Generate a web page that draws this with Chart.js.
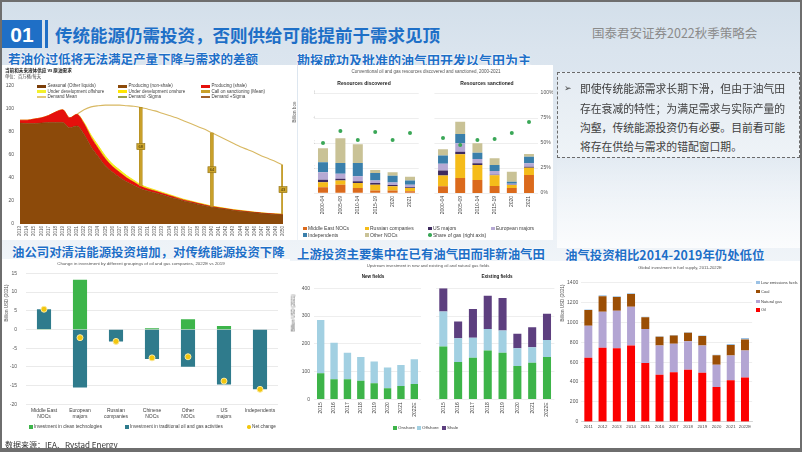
<!DOCTYPE html>
<html><head><meta charset="utf-8">
<script src="https://cdn.jsdelivr.net/npm/chart.js@4.4.1/dist/chart.umd.min.js"></script>
<style>
*{box-sizing:border-box;}
html,body{margin:0;padding:0;}
body{width:802px;height:452px;overflow:hidden;position:relative;background:#fff;font-family:"Liberation Sans",Arial,sans-serif;}
#bg{position:absolute;left:0;top:0;width:802px;height:452px;background:linear-gradient(180deg,#d3dfea 0px,#dae4ee 50px,#e2eaf2 150px,#edf2f7 240px,#f8fafc 320px,#ffffff 420px);}
#frame{position:absolute;left:0;top:0;width:802px;height:452px;border:2px solid #6e6e6e;border-bottom-width:4px;pointer-events:none;z-index:50;}
.a{position:absolute;white-space:nowrap;line-height:1;}
.cn{font-family:"Noto Sans CJK SC",sans-serif;}
.h{position:absolute;white-space:nowrap;line-height:1;font-family:"Noto Sans CJK SC",sans-serif;font-weight:700;color:#1e6fc7;font-size:12.5px;transform:translateY(-50%);text-shadow:0 0 1px #fff,0 0 2px #fff,0 0 2px #fff;}
.wb{position:absolute;background:#fff;}
canvas{position:absolute;}
</style></head>
<body>
<div id="bg"></div>
<div style="position:absolute;left:557px;top:158px;width:243px;height:90px;background:linear-gradient(180deg,rgba(255,255,255,0),rgba(255,255,255,0.75));"></div>
<div style="position:absolute;left:2px;top:20px;width:40px;height:28px;background:#1f6fc6;"></div>
<div class="a" style="left:22px;top:34px;transform:translate(-50%,-50%);color:#fff;font-weight:700;font-size:21px;">01</div>
<div style="position:absolute;left:45px;top:20px;width:3px;height:28px;background:#1f6fc6;"></div>
<div class="h" style="left:55px;top:35px;font-size:17.5px;text-shadow:none;">传统能源仍需投资，否则供给可能提前于需求见顶</div>
<div class="a cn" style="left:592px;top:33px;transform:translateY(-50%);font-size:12.5px;color:#8a8a8a;">国泰君安证券2022秋季策略会</div>

<div class="h" style="left:8px;top:59px;">若油价过低将无法满足产量下降与需求的差额</div>
<div class="h" style="left:297px;top:59px;font-size:13px;">勘探成功及批准的油气田开发以气田为主</div>
<div class="h" style="left:12px;top:252px;font-size:12.4px;">油公司对清洁能源投资增加，对传统能源投资下降</div>
<div class="h" style="left:297px;top:254px;font-size:12.4px;">上游投资主要集中在已有油气田而非新油气田</div>
<div class="h" style="left:565px;top:255px;font-size:12.4px;">油气投资相比2014-2019年仍处低位</div>

<div class="wb" style="left:2px;top:65px;width:295px;height:175px;"></div>
<div class="wb" style="left:298px;top:65px;width:255px;height:175px;"></div>
<div class="wb" style="left:2px;top:259px;width:288px;height:183px;"></div>
<div class="wb" style="left:290px;top:261px;width:270px;height:180px;"></div>
<div class="wb" style="left:560px;top:261px;width:240px;height:181px;"></div>

<div style="position:absolute;left:557px;top:72px;width:243px;height:86px;border:1.5px dashed #6a6a6a;background:linear-gradient(180deg,#e4ebf2,#eef3f7);"></div>

<div id="frame"></div>

<script>
// ---------- DATA ----------
const supplyYears = ['2013','2014','2015','2016','2017','2018','2019','2020','2021','2022','2023','2024','2025','2026','2027','2028','2029','2030','2031','2032','2033','2034','2035','2036','2037','2038','2039','2040','2041','2042','2043','2044','2045','2046','2047','2048','2049','2050'];
const producingNonShale = [87.5,87,87,87.5,88,88,88,83.5,85,78,67,58.5,50.5,45,40.5,36.5,33.5,30.5,28.5,27,25.3,23.5,21.8,20,18.6,17.2,15.9,14.5,13.6,12.7,11.8,11.1,10.4,9.8,9.2,8.7,8.3,8.0];
const producingShale = [2.5,3,4,4.5,6,9,11,8.5,10,9,8,7,6,4.8,4.3,3.5,2.8,2.2,1.8,1.5,1.3,1.2,1.0,0.9,0.8,0.7,0.6,0.6,0.5,0.5,0.4,0.4,0.4,0.3,0.3,0.3,0.3,0.3];
const underDevelopment = [0,0,0,0,0,0,0,0,0,1,2,2.5,2.5,2.2,2.2,2,1.7,1.3,1.2,1.0,0.9,0.8,0.7,0.6,0.6,0.5,0.5,0.4,0.4,0.3,0.3,0.3,0.3,0.2,0.2,0.2,0.2,0.2];
const demandMean = [null,null,null,null,null,null,null,null,95,99,101.5,102.5,103,103,103,102.5,102,101,99.5,98,96,94,92,89.5,87,84.5,82,79,76,73,70,67,64.5,62,59,56.5,54,51];
const callYears = ['2030','2040','2050'];
const callLow = [33,15,8.5];
const callHigh = [101,79,51];

const periods = ['2000-04','2005-09','2010-14','2015-19','2020','2021'];
const discMENOC = [3.5,5,3,1.5,1.5,1];
const discRussian = [3,2.5,3,3.5,2.5,2];
const discUSMajors = [1.5,1,1,1,0.8,0.5];
const discEuroMajors = [4.5,3,3,1.5,1.5,1.5];
const discIndependents = [6,6.5,8,4.5,4,2.5];
const discOtherNOC = [8.3,14.8,11.2,1.8,2.1,2.3];
const discGasShare = [50,62,53,61,53,60];
const sancMENOC = [4,9,7.8,4.2,3,10.8];
const sancRussian = [6.5,14.2,9,6.5,1.8,4.4];
const sancUSMajors = [3,1.6,1,0.3,0.2,0.6];
const sancEuroMajors = [4,5,2.6,2.2,0.6,2];
const sancIndependents = [5,5.6,3.8,3.6,1.2,4];
const sancOtherNOC = [3.7,7.4,5.6,4,6,1.6];
const sancGasShare = [55,48,53,54,60,71];

const companyGroups = [['Middle East','NOCs'],['European','majors'],['Russian','companies'],['Chinese','NOCs'],['Other','NOCs'],['US','majors'],['Independents']];
const cleanInvestment = [0.1,13.3,0,0.3,2.7,0.9,0];
const traditionalInvestment = [5.3,-15.5,-3.2,-7.9,-10.0,-14.7,-16.0];
const netChange = [5.4,-2.2,-3.2,-7.6,-7.3,-13.8,-16.0];

const fieldYears = ['2015','2016','2017','2018','2019','2020','2021','2022E'];
const newOnshore = [94,72,72,67,58,40,48,55];
const newOffshore = [192,132,96,85,78,75,76,89];
const existingOnshore = [190,134,150,176,168,120,132,152];
const existingOffshore = [126,86,72,77,80,64,56,62];
const existingShale = [84,60,103,120,117,52,72,94];

const fuelYears = ['2011','2012','2013','2014','2015','2016','2017','2018','2019','2020','2021','2022E'];
const oilInv = [644,744,740,767,590,474,497,524,494,350,417,444];
const gasInv = [323,363,377,390,344,293,287,286,273,224,250,273];
const coalInv = [157,157,140,130,118,88,85,85,95,95,105,112];
const lowEmInv = [5,10,7,7,5,5,5,5,5,5,10,15];

// ---------- HELPERS ----------
Chart.defaults.font.family = '"Liberation Sans", Arial, sans-serif';
Chart.defaults.color = '#555';
function mk(x,y,w,h){const c=document.createElement('canvas');c.width=w;c.height=h;c.style.left=x+'px';c.style.top=y+'px';c.style.width=w+'px';c.style.height=h+'px';document.body.appendChild(c);return c;}
function T(x,y,s,o){o=o||{};const d=document.createElement('div');d.className='a'+(o.cn?' cn':'');d.textContent=s;
  d.style.left=x+'px';d.style.top=y+'px';d.style.fontSize=(o.fs||5)+'px';d.style.color=o.c||'#404040';if(o.b)d.style.fontWeight='700';
  let tr='translateY(-50%)';if(o.center)tr='translate(-50%,-50%)';if(o.rot)tr='translate(-50%,-50%) rotate(-90deg)';
  d.style.transform=tr;d.style.zIndex=20;document.body.appendChild(d);return d;}
function LG(x,y,color,label,shape,fs){const s=document.createElement('div');s.className='a';
  let w=3.5,h=3.5,r=0;if(shape==='blk'){w=9;h=3;}if(shape==='ln'){w=9;h=1.3;}if(shape==='dot'){r=50;}
  s.style.cssText='left:'+x+'px;top:'+(y-h/2)+'px;width:'+w+'px;height:'+h+'px;background:'+color+';border-radius:'+r+'%;z-index:20;';
  document.body.appendChild(s);T(x+w+1.5,y,label,{fs:fs||5});}
const base = {responsive:false,animation:false,plugins:{legend:{display:false},tooltip:{enabled:false}}};
function opts(o){return Object.assign({},base,o);}
const plain = v=>String(v);

// ---------- TOP-LEFT: supply vs demand ----------
const cumNS = producingNonShale.slice();
const cumSh = producingNonShale.map((v,i)=>v+producingShale[i]);
const cumUD = cumSh.map((v,i)=>v+underDevelopment[i]);
const callBars = callYears.map((yr,i)=>({x:yr,y:[callLow[i],callHigh[i]]}));
const callLabelPlugin = {id:'callLabels',afterDatasetsDraw(chart){
  const meta=chart.getDatasetMeta(4);const ys=chart.scales.y;const ctx=chart.ctx;
  callBars.forEach((d,i)=>{const el=meta.data[i];if(!el)return;const py=ys.getPixelForValue((d.y[0]+d.y[1])/2);
    ctx.save();ctx.fillStyle='#cda52e';ctx.fillRect(el.x-4,py-3,8,6);ctx.strokeStyle='#8e6f12';ctx.lineWidth=0.6;ctx.strokeRect(el.x-4,py-3,8,6);
    ctx.fillStyle='#3b2c00';ctx.font='4px "Liberation Sans"';ctx.textAlign='center';ctx.textBaseline='middle';
    ctx.fillText(String(Math.round(d.y[1]-d.y[0])),el.x,py+0.3);ctx.restore();});}};
new Chart(mk(2,65,295,175),{type:'line',
  data:{labels:supplyYears,datasets:[
    {data:cumNS,fill:'origin',backgroundColor:'#8c4a0a',borderColor:'#7d4107',borderWidth:0.6,pointRadius:0,cubicInterpolationMode:'monotone'},
    {data:cumSh,fill:'-1',backgroundColor:'#e5100c',borderColor:'#dc0000',borderWidth:0.6,pointRadius:0,cubicInterpolationMode:'monotone'},
    {data:cumUD,fill:'-1',backgroundColor:'#f6ef1c',borderColor:'#efe200',borderWidth:0.8,pointRadius:0,cubicInterpolationMode:'monotone'},
    {data:demandMean,fill:false,borderColor:'#d8b862',borderWidth:1.1,pointRadius:0,cubicInterpolationMode:'monotone'},
    {type:'bar',data:callBars,backgroundColor:'#c9a02a',borderColor:'#a8841a',borderWidth:0.4,barThickness:3,order:-1}
  ]},
  options:opts({layout:{autoPadding:false,padding:{left:0,right:14,top:20.5,bottom:0}},
    scales:{
      x:{type:'category',offset:false,grid:{display:false,drawTicks:false},border:{display:false},
         ticks:{autoSkip:false,maxRotation:90,minRotation:90,font:{size:4.5},color:'#555',padding:2},afterFit:s=>{s.height=16;}},
      y:{min:0,max:120,ticks:{stepSize:20,font:{size:5},color:'#555',padding:6,callback:plain},grid:{display:false,drawTicks:false},border:{display:false},afterFit:s=>{s.width=18;}}
    }}),
  plugins:[callLabelPlugin]});

T(5,70,'当前和未来液体供应 vs 原油需求',{fs:4.6,b:true,cn:true,c:'#222'});
T(5,76,'单位：百万桶/每天',{fs:4.3,cn:true,c:'#444'});
LG(37,86,'#7a3d08','Seasonal (Other liquids)','blk',4.5);
LG(118,86,'#8c4a0a','Producing (non-shale)','blk',4.5);
LG(201,86,'#e5100c','Producing (shale)','blk',4.5);
LG(37,91.5,'#f3f02a','Under development offshore','blk',4.5);
LG(118,91.5,'#ffe600','Under development onshore','blk',4.5);
LG(201,91.5,'#c9a02a','Call on sanctioning (Mean)','blk',4.5);
LG(37,97,'#e3c878','Demand Mean','ln',4.5);
LG(118,97,'#9aa04a','Demand -Sigma','ln',4.5);
LG(201,97,'#a0602c','Demand +Sigma','ln',4.5);

// ---------- TOP-MIDDLE: resources discovered / sanctioned ----------
const resColors = ['#db6a1c','#f5bc1a','#3e2b5f','#b6a9d4','#3a7fab','#c9c296'];
function resSets(arrs,share){
  const sets = arrs.map((a,i)=>({data:a,backgroundColor:resColors[i],stack:'r',yAxisID:'y',barPercentage:0.8,categoryPercentage:0.72}));
  sets.push({type:'line',data:share,yAxisID:'y2',showLine:false,pointRadius:2,pointBackgroundColor:'#3aa757',pointBorderWidth:0,order:-1});
  return sets;}
const resX = {stacked:true,grid:{display:false,drawTicks:false},border:{display:false},
  ticks:{autoSkip:false,maxRotation:90,minRotation:90,font:{size:5},color:'#444',padding:3},afterFit:s=>{s.height=27;}};
new Chart(mk(298,65,125,155),{type:'bar',
  data:{labels:periods,datasets:resSets([discMENOC,discRussian,discUSMajors,discEuroMajors,discIndependents,discOtherNOC],discGasShare)},
  options:opts({layout:{autoPadding:false,padding:{left:0,right:4.3,top:28,bottom:0}},
    scales:{x:resX,
      y:{stacked:true,min:0,max:60,ticks:{stepSize:15,font:{size:5},color:'#555',padding:-5,callback:plain},grid:{color:'#e3e3e3',lineWidth:0.6,drawTicks:false},border:{display:false},afterFit:s=>{s.width=16.3;}},
      y2:{position:'right',display:false,min:0,max:100}}})});
new Chart(mk(423,65,130,155),{type:'bar',
  data:{labels:periods,datasets:resSets([sancMENOC,sancRussian,sancUSMajors,sancEuroMajors,sancIndependents,sancOtherNOC],sancGasShare)},
  options:opts({layout:{autoPadding:false,padding:{left:11.4,right:0,top:28,bottom:0}},
    scales:{x:resX,
      y:{stacked:true,display:false,min:0,max:60},
      y2:{position:'right',min:0,max:100,ticks:{stepSize:25,callback:v=>v+'%',font:{size:5},color:'#555',padding:3},grid:{color:'#e3e3e3',lineWidth:0.6,drawTicks:false},border:{display:false},afterFit:s=>{s.width=15.4;}}}})});
T(426,72,'Conventional oil and gas resources discovered and sanctioned, 2000-2021',{fs:4.5,center:true,c:'#555'});
T(364,83,'Resources discovered',{fs:5,b:true,center:true,c:'#222'});
T(487,83,'Resources sanctioned',{fs:5,b:true,center:true,c:'#222'});
T(294.5,112,'Billion boe',{fs:4.5,rot:true,c:'#555'});
LG(303,228.3,resColors[0],'Middle East NOCs','sq',5);
LG(365,228.3,resColors[1],'Russian companies','sq',5);
LG(428,228.3,resColors[2],'US majors','sq',5);
LG(491,228.3,resColors[3],'European majors','sq',5);
LG(303,235,resColors[4],'Independents','sq',5);
LG(365,235,resColors[5],'Other NOCs','sq',5);
LG(428,235,'#3aa757','Share of gas (right axis)','dot',5);

// ---------- BOTTOM-LEFT: change in investment ----------
new Chart(mk(2,258,288,182),{type:'bar',
  data:{labels:companyGroups,datasets:[
    {data:cleanInvestment,backgroundColor:'#3db54a',stack:'s',barPercentage:0.8,categoryPercentage:0.49},
    {data:traditionalInvestment,backgroundColor:'#2f7b8c',stack:'s',barPercentage:0.8,categoryPercentage:0.49},
    {type:'line',data:netChange,stack:'n',showLine:false,pointRadius:3,pointBackgroundColor:'#f3c70f',pointBorderColor:'#fbe9a0',pointBorderWidth:1,order:-1}
  ]},
  options:opts({layout:{autoPadding:false,padding:{left:0,right:12,top:15.3,bottom:0}},
    scales:{
      x:{stacked:true,grid:{display:false,drawTicks:false},border:{display:false},ticks:{autoSkip:false,maxRotation:0,font:{size:5},color:'#404040',padding:3},afterFit:s=>{s.height=35.7;}},
      y:{stacked:true,min:-20,max:15,ticks:{stepSize:5,font:{size:5},color:'#555',padding:9,callback:plain},grid:{color:'#dcdcdc',lineWidth:0.6,drawTicks:false},border:{display:false},afterFit:s=>{s.width=24;}}
    }})});
T(141,264,'Change in investment by different groupings of oil and gas companies, 2022E vs 2019',{fs:4.4,center:true,c:'#555'});
T(7,303,'Billion USD (2021)',{fs:4.5,rot:true,c:'#555'});
LG(29,427,'#3db54a','Investment in clean technologies','sq',4.7);
LG(125,427,'#2f7b8c','Investment in traditional oil and gas activities','sq',4.7);
LG(247,427,'#f3c70f','Net change','dot',4.7);

// ---------- BOTTOM-MIDDLE: new vs existing fields ----------
const fx = {stacked:true,grid:{display:false,drawTicks:false},border:{display:false},
  ticks:{autoSkip:false,maxRotation:90,minRotation:90,font:{size:5},color:'#444',padding:3},afterFit:s=>{s.height=33.7;}};
new Chart(mk(290,258,135,175),{type:'bar',
  data:{labels:fieldYears,datasets:[
    {data:newOnshore,backgroundColor:'#3db449',barPercentage:0.8,categoryPercentage:0.69},
    {data:newOffshore,backgroundColor:'#a2d0e2',barPercentage:0.8,categoryPercentage:0.69}]},
  options:opts({layout:{autoPadding:false,padding:{left:0,right:4,top:30.3,bottom:0}},
    scales:{x:fx,
      y:{stacked:true,min:0,max:400,ticks:{stepSize:100,font:{size:5},color:'#555',padding:4,callback:plain},grid:{color:'#e3e3e3',lineWidth:0.6,drawTicks:false},border:{display:false},afterFit:s=>{s.width=24;}}}})});
new Chart(mk(425,258,135,175),{type:'bar',
  data:{labels:fieldYears,datasets:[
    {data:existingOnshore,backgroundColor:'#3db449',barPercentage:0.8,categoryPercentage:0.68},
    {data:existingOffshore,backgroundColor:'#a2d0e2',barPercentage:0.8,categoryPercentage:0.68},
    {data:existingShale,backgroundColor:'#5d3f7f',barPercentage:0.8,categoryPercentage:0.68}]},
  options:opts({layout:{autoPadding:false,padding:{left:0,right:5.6,top:30.3,bottom:0}},
    scales:{x:fx,
      y:{stacked:true,min:0,max:400,ticks:{stepSize:100,display:false},grid:{color:'#e3e3e3',lineWidth:0.6,drawTicks:false},border:{display:false},afterFit:s=>{s.width=10.9;}}}})});
T(428,266,'Upstream investment in new and existing oil and natural gas fields',{fs:4.2,center:true,c:'#555'});
T(373,277,'New fields',{fs:4.6,b:true,center:true,c:'#222'});
T(497,277,'Existing fields',{fs:4.6,b:true,center:true,c:'#222'});
T(293.5,313,'Billion USD (2021)',{fs:4.5,rot:true,c:'#555'});
LG(393,428,'#3db449','Onshore','sq',4.4);
LG(417,428,'#a2d0e2','Offshore','sq',4.4);
LG(442,428,'#5d3f7f','Shale','sq',4.4);

// ---------- BOTTOM-RIGHT: fuel supply investment ----------
new Chart(mk(560,258,240,178),{type:'bar',
  data:{labels:fuelYears,datasets:[
    {data:oilInv,backgroundColor:'#fb0000',barPercentage:0.8,categoryPercentage:0.7},
    {data:gasInv,backgroundColor:'#b3a5d3',barPercentage:0.8,categoryPercentage:0.7},
    {data:coalInv,backgroundColor:'#9b4e04',barPercentage:0.8,categoryPercentage:0.7},
    {data:lowEmInv,backgroundColor:'#9cc2e5',barPercentage:0.8,categoryPercentage:0.7}]},
  options:opts({layout:{autoPadding:false,padding:{left:0,right:47.9,top:24.7,bottom:0}},
    scales:{
      x:{stacked:true,grid:{display:false,drawTicks:false},border:{display:true,color:'#c8c8c8',width:0.7},ticks:{autoSkip:false,maxRotation:0,font:{size:4.3},color:'#444',padding:3},afterFit:s=>{s.height=14.3;}},
      y:{stacked:true,min:0,max:1400,ticks:{stepSize:200,font:{size:5},color:'#555',padding:3,callback:plain},grid:{color:'#e3e3e3',lineWidth:0.6,drawTicks:false},border:{display:false},afterFit:s=>{s.width=21.2;}}
    }})});
T(680,268,'Global investment in fuel supply, 2011-2022E',{fs:4.2,center:true,c:'#555'});
T(562.5,303,'Billion USD (2021)',{fs:4.5,rot:true,c:'#555'});
LG(756,282.7,'#9cc2e5','Low emissions fuels','sq',4.1);
LG(756,291.7,'#9b4e04','Coal','sq',4.1);
LG(756,301.7,'#b3a5d3','Natural gas','sq',4.1);
LG(756,310,'#fb0000','Oil','sq',4.1);

// ---------- TEXT BOX & SOURCE ----------
const boxLines = ['即使传统能源需求长期下滑，但由于油气田','存在衰减的特性；为满足需求与实际产量的','沟壑，传统能源投资仍有必要。目前看可能','将存在供给与需求的错配窗口期。'];
T(564,88.3,'➢',{fs:9,c:'#444'});
boxLines.forEach((s,i)=>T(580,88.3+i*19.2,s,{fs:10.8,cn:true,c:'#404040'}));
T(5,445,'数据来源：IEA、Rystad   Energy',{fs:8,cn:true,c:'#333'});
</script>
</body></html>
